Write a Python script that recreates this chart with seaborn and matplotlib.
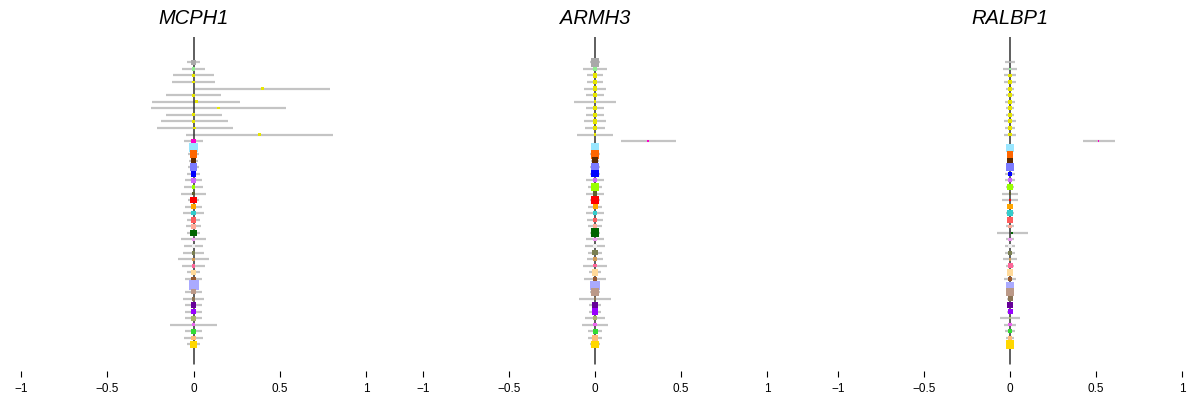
import numpy as np
import pandas as pd
import matplotlib
matplotlib.use("Agg")
import matplotlib.pyplot as plt
import seaborn as sns

# ---------------- data ----------------
genes = ["MCPH1", "ARMH3", "RALBP1"]
groups = [f"g{i:02d}" for i in range(1, 45)]
group_colors = [
    "#a9a9a9", "#90ee90", "#e6e600", "#e6e600", "#e6e600", "#e6e600", "#e6e600",
    "#e6e600", "#e6e600", "#e6e600", "#e6e600", "#e6e600", "#ff00cc", "#99e6ff",
    "#ff6600", "#5c2a00", "#7b7bff", "#0000ff", "#cc66ff", "#99ff00", "#5e5e2e",
    "#ff0000", "#ffa500", "#33cccc", "#ff5c5c", "#ffaa99", "#006400", "#ee99ee",
    "#eeeeee", "#7b8052", "#d39b55", "#ff6699", "#ffd999", "#99592e", "#aaaaff",
    "#bb9988", "#8b7355", "#660099", "#9900ff", "#a8b56a", "#ee66ee", "#33dd33",
    "#ffbb77", "#ffd700",
]

mcph1_est = [0, 0, 0, 0, 0.40, 0, 0.016, 0.145, 0, 0, 0.005, 0.383, 0, 0, 0, 0, 0, 0, 0, 0, 0, 0,
             0, 0, 0, 0, 0, 0, 0, 0, 0, 0, 0, 0, 0, 0, 0, 0, 0, 0, 0, 0, 0, 0]
mcph1_lo = [-0.037, -0.064, -0.12, -0.126, 0.008, -0.16, -0.24, -0.248, -0.16, -0.19, -0.21, -0.045,
            -0.055, -0.025, -0.03, -0.025, -0.03, -0.035, -0.05, -0.055, -0.075, -0.03, -0.05, -0.06,
            -0.04, -0.045, -0.035, -0.07, -0.057, -0.058, -0.087, -0.067, -0.04, -0.05, -0.028,
            -0.047, -0.06, -0.047, -0.048, -0.047, -0.136, -0.05, -0.053, -0.04]
mcph1_hi = [0.037, 0.064, 0.12, 0.126, 0.79, 0.16, 0.27, 0.535, 0.165, 0.20, 0.23, 0.81,
            0.055, 0.025, 0.03, 0.025, 0.03, 0.035, 0.05, 0.055, 0.075, 0.03, 0.05, 0.06,
            0.04, 0.045, 0.035, 0.07, 0.057, 0.058, 0.087, 0.067, 0.04, 0.05, 0.028,
            0.047, 0.06, 0.047, 0.048, 0.047, 0.136, 0.05, 0.053, 0.04]
mcph1_w = [5, 3, 2.5, 2.5, 2, 2.5, 2.5, 2, 2.5, 2.5, 2.5, 2, 4, 8, 7, 5, 7, 5, 4, 3.5, 3, 6,
           4, 4, 5, 4, 6, 3, 3, 3.5, 3, 3.5, 5, 4, 9, 4.5, 3.5, 5, 4.5, 4.5, 3, 4.5, 4, 5.5]

armh3_est = [0] * 12 + [0.31] + [0] * 31
armh3_lo = [-0.028, -0.068, -0.048, -0.044, -0.063, -0.055, -0.124, -0.05, -0.053, -0.063, -0.059,
            -0.103, 0.149, -0.025, -0.029, -0.025, -0.028, -0.029, -0.053, -0.039, -0.051, -0.03,
            -0.041, -0.054, -0.049, -0.039, -0.03, -0.051, -0.058, -0.041, -0.049, -0.071, -0.037,
            -0.062, -0.03, -0.03, -0.091, -0.035, -0.037, -0.058, -0.073, -0.043, -0.041, -0.03]
armh3_hi = [0.028, 0.068, 0.048, 0.044, 0.063, 0.055, 0.124, 0.05, 0.053, 0.063, 0.059,
            0.103, 0.472, 0.025, 0.029, 0.025, 0.028, 0.029, 0.053, 0.039, 0.051, 0.03,
            0.041, 0.054, 0.049, 0.039, 0.03, 0.051, 0.058, 0.041, 0.049, 0.071, 0.037,
            0.062, 0.03, 0.03, 0.091, 0.035, 0.037, 0.058, 0.073, 0.043, 0.041, 0.03]
armh3_w = [8, 3, 4, 4, 4, 4, 2.5, 4, 4, 4, 4, 2.5, 1.5, 8, 8, 6, 8, 6.5, 3.5, 7, 4, 7.5,
           4.5, 3.5, 4, 4, 8, 3.5, 3, 5, 3.5, 3, 6, 3, 8.5, 6.5, 2, 6, 6, 3.5, 3, 4.5, 5.5, 6.5]

ralbp1_est = [0] * 12 + [0.514] + [0] * 13 + [0.013] + [0] * 17
ralbp1_lo = [-0.029, -0.039, -0.034, -0.032, -0.026, -0.026, -0.028, -0.026, -0.026, -0.035,
             -0.028, -0.032, 0.424, -0.02, -0.02, -0.02, -0.025, -0.028, -0.029, -0.025, -0.046,
             -0.045, -0.02, -0.024, -0.02, -0.026, -0.074, -0.024, -0.027, -0.029, -0.04, -0.022,
             -0.02, -0.034, -0.025, -0.025, -0.02, -0.02, -0.02, -0.059, -0.034, -0.03, -0.022,
             -0.02]
ralbp1_hi = [0.029, 0.039, 0.034, 0.032, 0.026, 0.026, 0.028, 0.026, 0.026, 0.035,
             0.028, 0.032, 0.61, 0.02, 0.02, 0.02, 0.025, 0.028, 0.029, 0.025, 0.046,
             0.045, 0.02, 0.024, 0.02, 0.026, 0.105, 0.024, 0.027, 0.029, 0.04, 0.022,
             0.02, 0.034, 0.025, 0.025, 0.02, 0.02, 0.02, 0.059, 0.034, 0.03, 0.022,
             0.02]
ralbp1_w = [2, 2.5, 3.5, 3.5, 3.5, 3.5, 3.5, 3.5, 3.5, 3.5, 3.5, 3.5, 1.5, 7, 6, 5.5, 7.5, 3.5,
            3.5, 6, 2, 2, 5, 5, 5.5, 3, 1.5, 3.5, 3, 3.5, 2.5, 4.5, 6, 3, 7, 8, 4.5, 6, 4.5, 2,
            3, 3.5, 4, 7.5]

x_ticks = [-1, -0.5, 0, 0.5, 1]
x_ticklabels = ["\u22121", "\u22120.5", "0", "0.5", "1"]

panels = [
    (genes[0], mcph1_est, mcph1_lo, mcph1_hi, mcph1_w),
    (genes[1], armh3_est, armh3_lo, armh3_hi, armh3_w),
    (genes[2], ralbp1_est, ralbp1_lo, ralbp1_hi, ralbp1_w),
]

# ---------------- plot ----------------
sns.set_theme(style="white")
plt.rcParams["font.family"] = ["Liberation Sans", "DejaVu Sans"]

W, H = 1187, 400
fig = plt.figure(figsize=(W / 100, H / 100), dpi=100)
fig.patch.set_facecolor("white")

ax_px = [(21, 366), (423, 767), (838, 1182)]
top_px, bot_px = 37, 371

y_top = -2.86
y_bot = 48.04
line_end = 46.97

for (gene, est, lo, hi, w), (x0, x1) in zip(panels, ax_px):
    ax = fig.add_axes([x0 / W, 1 - bot_px / H, (x1 - x0) / W, (bot_px - top_px) / H])
    df = pd.DataFrame({
        "group": groups,
        "row": np.arange(1, len(groups) + 1),
        "est": est, "lo": lo, "hi": hi, "w": w,
    })
    ax.hlines(df["row"], df["lo"], df["hi"], color="#c4c4c4", lw=1.6, zorder=1)
    ax.axvline(0, ymin=(y_bot - line_end) / (y_bot - y_top), ymax=1,
               color="#333333", lw=1.1, zorder=2)
    sns.scatterplot(data=df, x="est", y="row", hue="group", hue_order=groups,
                    palette=group_colors, marker="s",
                    s=(df["w"].to_numpy() * 0.8) ** 2, linewidth=0,
                    legend=False, ax=ax, zorder=3)
    ax.set_xlim(-1, 1)
    ax.set_ylim(y_bot, y_top)
    ax.set_xticks(x_ticks)
    ax.set_xticklabels(x_ticklabels)
    ax.set_yticks([])
    ax.set_xlabel("")
    ax.set_ylabel("")
    for s in ax.spines.values():
        s.set_visible(False)
    ax.tick_params(axis="x", bottom=True, length=4, width=0.8, color="black",
                   labelsize=8.5, pad=5, labelcolor="black")
    ax.set_facecolor("none")
    ax.set_title(gene, fontsize=14.5, fontstyle="italic", pad=9, color="black")

fig.savefig("out.png", dpi=100, facecolor="white")
